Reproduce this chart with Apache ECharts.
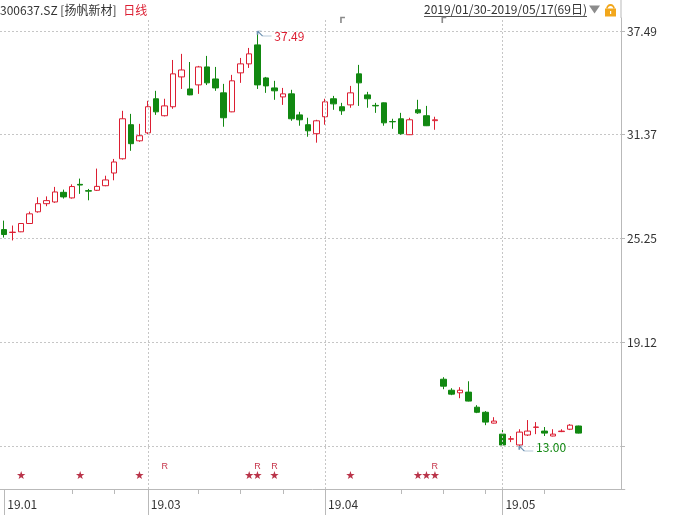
<!DOCTYPE html>
<html><head><meta charset="utf-8">
<script src="https://cdn.jsdelivr.net/npm/echarts@6/dist/echarts.min.js"></script>
<style>html,body{margin:0;padding:0;background:#fff}#c{width:684px;height:515px}</style>
</head><body><div id="c"></div>
<script>
// ---- data ----
const dates = [
 '2019-01-30','2019-01-31',
 '2019-02-01','2019-02-11','2019-02-12','2019-02-13','2019-02-14','2019-02-15','2019-02-18','2019-02-19','2019-02-20','2019-02-21','2019-02-22','2019-02-25','2019-02-26','2019-02-27','2019-02-28',
 '2019-03-01','2019-03-04','2019-03-05','2019-03-06','2019-03-07','2019-03-08','2019-03-11','2019-03-12','2019-03-13','2019-03-14','2019-03-15','2019-03-18','2019-03-19','2019-03-20','2019-03-21','2019-03-22','2019-03-25','2019-03-26','2019-03-27','2019-03-28','2019-03-29',
 '2019-04-01','2019-04-02','2019-04-03','2019-04-04','2019-04-08','2019-04-09','2019-04-10','2019-04-11','2019-04-12','2019-04-15','2019-04-16','2019-04-17','2019-04-18','2019-04-19','2019-04-22','2019-04-23','2019-04-24','2019-04-25','2019-04-26','2019-04-29','2019-04-30',
 '2019-05-06','2019-05-07','2019-05-08','2019-05-09','2019-05-10','2019-05-13','2019-05-14','2019-05-15','2019-05-16','2019-05-17'
];
const opens  = [25.77,25.60,25.64,26.13,26.82,27.30,27.40,27.97,27.64,28.44,28.07,28.09,28.36,29.11,29.95,31.96,31.01,31.48,33.49,32.49,33.02,34.78,34.07,34.31,35.37,34.66,33.84,32.72,35.02,35.55,36.67,34.72,34.13,33.60,33.78,32.54,31.96,31.43,32.43,33.49,33.02,33.13,34.96,33.72,33.10,33.25,32.15,32.31,31.37,32.84,32.49,32.20,16.94,16.29,16.14,16.18,15.29,14.99,14.35,13.70,13.40,13.06,13.65,14.10,13.88,13.59,13.85,13.99,14.18];
const closes = [25.48,25.62,26.13,26.70,27.30,27.48,27.99,27.70,28.31,28.40,28.04,28.32,28.70,29.76,32.31,30.84,31.31,33.02,32.72,33.07,34.96,35.19,33.72,35.37,34.43,34.13,32.37,34.55,35.55,36.14,34.31,34.25,33.96,33.78,32.31,32.25,31.60,32.19,33.31,33.19,32.78,33.84,34.43,33.49,33.07,32.07,32.13,31.43,32.25,32.66,31.90,32.25,16.53,16.06,16.29,15.65,14.99,14.41,14.47,13.06,13.43,13.82,13.88,14.12,13.76,13.70,13.88,14.23,13.76];
const lows   = [25.30,25.13,25.62,26.10,26.77,27.15,27.35,27.60,27.60,27.88,27.50,28.05,28.33,28.68,29.90,30.42,30.95,31.40,32.54,32.45,32.90,34.07,33.70,33.78,34.30,33.96,31.84,32.70,34.43,35.31,34.07,33.84,33.43,33.13,32.19,31.90,31.25,30.90,31.96,32.84,32.54,32.96,33.07,32.96,32.66,31.90,31.72,31.37,31.35,32.60,31.88,31.66,16.35,16.00,15.82,15.63,14.94,14.23,14.33,13.03,13.23,13.00,13.59,13.70,13.59,13.57,13.82,13.94,13.74];
const highs  = [26.30,26.01,26.15,26.83,27.68,27.73,28.29,28.13,28.44,28.78,28.17,29.37,28.95,29.94,32.78,32.60,32.01,33.37,33.96,33.49,35.78,36.14,35.66,35.43,36.02,35.37,34.37,34.90,35.90,36.49,37.49,34.78,34.55,34.13,34.02,32.72,32.37,32.25,33.49,33.66,33.25,34.25,35.49,33.90,33.25,33.27,32.31,32.66,32.37,33.43,33.07,32.43,17.06,16.41,16.47,16.82,15.41,15.06,14.70,13.99,13.59,13.99,14.53,14.41,14.12,13.99,13.99,14.29,14.20];
const yTicks = [13.00, 19.12, 25.25, 31.37, 37.49];
const monthTickIdx = [0, 17, 38, 59];
const monthLabels = ['19.01', '19.03', '19.04', '19.05'];
const weekTickIdx = [8, 13, 23, 28, 33, 47, 52, 57, 64];
const starIdx = [2, 9, 16, 29, 30, 32, 41, 49, 50, 51];
const rIdx = [19, 30, 32, 51];
const infoIdx = [40, 52];
const titleText = '300637.SZ [扬帆新材]';
const periodText = '日线';
const rangeText = '2019/01/30-2019/05/17(69日)';

// ---- style ----
const RED = '#dc1e32', GREEN = '#118811', AXIS = '#b9b9b9', GRIDC = '#c6c6c6', TXT = '#333';
const FONT = '"Noto Sans CJK SC", "Noto Sans", sans-serif';
const dotted = {color: GRIDC, type: [2, 2], width: 1};

const chart = echarts.init(document.getElementById('c'), null, {renderer: 'canvas'});
const ohlc = dates.map((d, i) => [opens[i], closes[i], lows[i], highs[i]]);
const monthLines = monthTickIdx.slice(1).map(i => ({xAxis: dates[i]}));
const markLineBase = {symbol: ['none', 'none'], silent: true, animation: false, label: {show: false}, lineStyle: dotted, emphasis: {disabled: true}};
const arrowPath = 'path://M0 0L5 4L14 4M0 0L4 0M0 0L0 3';

const option = {
  animation: false,
  textStyle: {fontFamily: FONT},
  grid: [
    {left: -1.23, right: 59.19, top: 18, height: 428},
    {left: -1.23, right: 59.19, top: 446, height: 43}
  ],
  xAxis: [
    {type: 'category', gridIndex: 0, data: dates, max: 73, boundaryGap: true,
     axisLine: {show: false}, axisTick: {show: false}, axisLabel: {show: false}, splitLine: {show: false}},
    {type: 'category', gridIndex: 1, data: dates, max: 73, boundaryGap: true, position: 'bottom',
     axisLine: {show: true, lineStyle: {color: AXIS}},
     axisTick: {show: true, alignWithLabel: true, length: 26, interval: i => monthTickIdx.includes(i), lineStyle: {color: AXIS}},
     axisLabel: {show: true, interval: i => monthTickIdx.includes(i), formatter: (v, i) => monthLabels[monthTickIdx.indexOf(i)] || '',
       align: 'left', padding: [0, 0, 0, 3], margin: 9, color: TXT, fontSize: 12, fontFamily: FONT},
     splitLine: {show: false}},
    {type: 'category', gridIndex: 1, data: dates, max: 73, boundaryGap: true, position: 'bottom',
     axisLine: {show: false},
     axisTick: {show: true, alignWithLabel: true, length: 5, interval: i => weekTickIdx.includes(i), lineStyle: {color: AXIS}},
     axisLabel: {show: false}, splitLine: {show: false}}
  ],
  yAxis: [
    {type: 'value', gridIndex: 0, position: 'right', offset: -3.8, min: 13, max: 38.257, scale: true,
     axisLine: {show: true, lineStyle: {color: AXIS}},
     axisTick: {show: true, length: 4, customValues: yTicks, lineStyle: {color: AXIS}},
     axisLabel: {show: true, customValues: yTicks.slice(1), formatter: v => v.toFixed(2), color: TXT, fontSize: 12, margin: 6, fontFamily: FONT},
     splitLine: {show: true, lineStyle: dotted}},
    {type: 'value', gridIndex: 1, position: 'right', offset: -3.8, min: 0, max: 1,
     axisLine: {show: true, lineStyle: {color: AXIS}}, axisTick: {show: false}, axisLabel: {show: false}, splitLine: {show: false}}
  ],
  series: [
    {type: 'candlestick', xAxisIndex: 0, yAxisIndex: 0, data: ohlc, barWidth: 6,
     itemStyle: {color: '#ffffff', color0: GREEN, borderColor: RED, borderColor0: GREEN, borderWidth: 1},
     markLine: Object.assign({}, markLineBase, {data: monthLines}),
     markPoint: {
       symbol: arrowPath, symbolSize: [14, 5], symbolOffset: [7, 2.5], symbolKeepAspect: false,
       itemStyle: {color: 'rgba(0,0,0,0)', borderColor: '#6f93b3', borderWidth: 1},
       label: {show: true, position: 'right', distance: 2, fontSize: 12, fontFamily: FONT, formatter: p => Number(p.value).toFixed(2)},
       silent: true, animation: false,
       data: [
         {type: 'max', valueDim: 'highest', label: {color: RED, offset: [0, 3]}},
         {type: 'min', valueDim: 'lowest', label: {color: GREEN, offset: [0, -1.5]}}
       ]
     }},
    {type: 'scatter', xAxisIndex: 1, yAxisIndex: 1, data: starIdx.map(i => [i, 0.3]),
     symbol: 'circle', symbolSize: 1, itemStyle: {color: 'rgba(0,0,0,0)'}, silent: true,
     label: {show: true, position: 'inside', formatter: '★', color: '#a8001c', fontSize: 11, fontFamily: 'DejaVu Sans'},
     markLine: Object.assign({}, markLineBase, {data: monthLines})},
    {type: 'scatter', xAxisIndex: 1, yAxisIndex: 1, data: rIdx.map(i => [i, 0.53]),
     symbol: 'circle', symbolSize: 1, itemStyle: {color: 'rgba(0,0,0,0)'}, silent: true,
     label: {show: true, position: 'inside', formatter: 'R', color: '#b8001c', fontSize: 9, fontFamily: 'Liberation Sans'}}
  ]
};
chart.setOption(option);

// ---- header & decorations ----
const mctx = document.createElement('canvas').getContext('2d');
const hdrFont = '12px ' + FONT;
mctx.font = hdrFont;
const rw = mctx.measureText(rangeText).width;
const rRight = 587;
const axisX = 621;
const infoXs = infoIdx.map(i => chart.convertToPixel({xAxisIndex: 0}, i));
const graphics = [
  {type: 'text', x: 0, y: 10, style: {text: '{a|' + titleText + '}  {b|' + periodText + '}', verticalAlign: 'middle',
    rich: {a: {fill: TXT, font: hdrFont}, b: {fill: RED, font: hdrFont}}}},
  {type: 'text', x: rRight - rw, y: 9, style: {text: rangeText, fill: TXT, font: hdrFont, verticalAlign: 'middle'}},
  {type: 'line', shape: {x1: rRight - rw, y1: 16.5, x2: rRight, y2: 16.5}, style: {stroke: '#555', lineWidth: 1}},
  {type: 'polygon', shape: {points: [[589, 5.5], [600, 5.5], [594.5, 13.5]]}, style: {fill: '#8c8c8c'}},
  {type: 'rect', shape: {x: 605, y: 8.5, width: 11, height: 8}, style: {fill: '#f2a71b'}},
  {type: 'arc', shape: {cx: 610.5, cy: 8.5, r: 3.5, startAngle: Math.PI, endAngle: 2 * Math.PI}, style: {stroke: '#f2a71b', lineWidth: 1.8, fill: null}},
  {type: 'rect', shape: {x: 610, y: 11, width: 1.2, height: 3}, style: {fill: '#fff'}},
  {type: 'line', shape: {x1: axisX, y1: 0, x2: axisX, y2: 18}, style: {stroke: AXIS, lineWidth: 1}}
];
infoXs.forEach(x => {
  graphics.push({type: 'polyline', shape: {points: [[x - 1, 23], [x - 1, 17.5], [x + 3, 17.5]]}, style: {stroke: '#8a8a8a', lineWidth: 1.6, fill: null}});
});
chart.setOption({graphic: graphics});
</script>
</body></html>
